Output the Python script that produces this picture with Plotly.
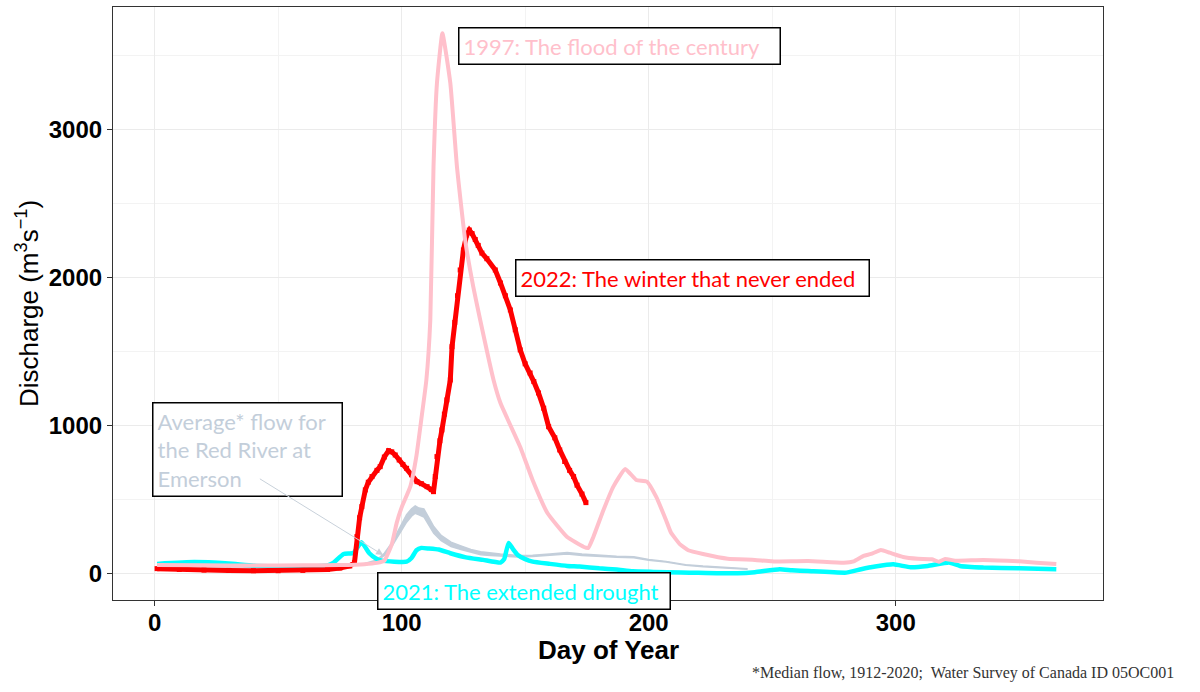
import plotly.graph_objects as go

# Red River at Emerson, daily discharge (m3/s)
pink_day = [1, 20, 40, 60, 75, 85, 90, 93, 96, 98, 100, 103.5, 106, 108, 110, 111.6, 112.9, 114.3,
            116.5, 119.7, 122.4, 125.7, 129, 131.8, 137.2, 140, 148, 153, 159, 167, 173.6, 175.5,
            177.6, 181.7, 185.7, 190.5, 195, 199.3, 203, 207, 209, 212.7, 216, 222, 232, 243, 250,
            264.5, 279, 283, 287, 290, 294, 297.5, 303, 309, 314.6, 317.5, 320, 324, 335.5, 350,
            357, 365]
pink_q = [60, 58, 57, 58, 60, 66, 75, 90, 200, 345, 450, 590, 800, 1050, 1310, 1716, 2752, 3318,
          3653, 3317, 2750, 2257, 1940, 1716, 1311, 1155, 858, 635, 412, 250, 184, 175,
          250, 432, 590, 709, 635, 624, 522, 365, 280, 200, 160, 135, 103, 95, 85,
          88, 76, 85, 122, 135, 162, 144, 115, 103, 99, 83, 101, 90, 95, 85,
          76, 68]

red_day = [1, 10, 20, 30, 40, 50, 60, 70, 75, 79, 80.9, 81.9, 83, 83.9, 85.3, 86.5, 88, 90, 91.3,
           93, 94.7, 96, 97.4, 99, 100.5, 102, 104, 106.2, 108, 110.3, 112, 112.9, 113.6, 114.3,
           115.5, 116.3, 117.3, 118.3, 119.7, 120.4, 121.5, 122.6, 123.7, 125, 126.3, 127.4, 128.5,
           129.8, 131, 132.5, 134.5, 137.9, 140, 142, 144, 146, 148, 150, 152, 153.5, 155.4,
           157.5, 159.5, 162, 164, 166, 168, 169.6, 171, 173, 174.6]
red_q = [36, 30, 26, 24, 22, 22, 24, 30, 40, 54, 77, 252, 380, 455, 568, 620, 658, 700, 725,
         790, 833, 825, 804, 770, 740, 714, 670, 624, 610, 590, 570, 556, 658, 793,
         900, 973, 1080, 1176, 1311, 1536, 1700, 1880, 2054, 2189, 2290, 2324, 2300,
         2260, 2220, 2168, 2130, 2054, 1966, 1880, 1784, 1650, 1514, 1420, 1358, 1300, 1223,
         1120, 995, 920, 838, 760, 700, 658, 600, 540, 482]

cyan_day = [1, 16, 30, 40, 55, 63, 70, 72.5, 76.5, 80.5, 83.7, 86.9, 89.6, 92, 97, 102, 104, 106,
            108, 111, 115, 119.7, 126, 133, 140, 141.5, 143.3, 145, 147, 150, 153, 160, 167, 172,
            180, 187, 193.5, 202, 213, 220, 236, 243, 253, 258, 264.5, 280, 286, 291.7, 299, 306,
            313, 321.6, 326, 335.5, 350, 365]
cyan_q = [68, 80, 70, 56, 50, 50, 58, 77, 135, 142, 215, 140, 105, 90, 83, 83, 108, 160,
          176, 172, 165, 140, 112, 95, 77, 100, 210, 170, 128, 100, 83, 68, 54, 50,
          38, 30, 18, 14, 9, 8, 5, 12, 32, 25, 20, 9, 32, 50, 65, 45,
          54, 77, 54, 43, 38, 32]

avg_day = [1, 40, 70, 85, 90, 93, 96, 98, 100, 102, 104, 105.5, 107, 109, 111, 113, 116, 120, 124,
           128, 132, 136, 140, 147, 153, 160, 167, 173, 180, 187, 194, 200, 207, 215, 222, 229, 240]
avg_hi = [52, 48, 50, 70, 95, 140, 210, 275, 340, 400, 440, 460, 445, 440, 380, 320, 260, 215, 190,
          165, 150, 140, 135, 125, 127, 135, 145, 135, 125, 120, 117, 98, 85, 63, 53, 46, 35]
avg_lo = [48, 44, 46, 65, 88, 125, 185, 240, 300, 350, 390, 410, 400, 385, 330, 275, 225, 185, 165,
          145, 130, 125, 122, 115, 118, 126, 135, 125, 117, 113, 110, 92, 80, 58, 49, 42, 32]

PINK = "#FFC0CB"
RED = "#FF0000"
CYAN = "#00FFFF"
AVG = "#C3CEDA"
BOX_FONT = "Lato, Carlito, Calibri, sans-serif"
AX_FONT = "Liberation Sans, Arial, sans-serif"

fig = go.Figure()

# median flow band
fig.add_trace(go.Scatter(x=avg_day, y=avg_lo, mode="lines", line=dict(color=AVG, width=1.5),
                         showlegend=False, hoverinfo="skip"))
fig.add_trace(go.Scatter(x=avg_day, y=avg_hi, mode="lines", line=dict(color=AVG, width=1.5),
                         fill="tonexty", fillcolor=AVG, showlegend=False))
fig.add_trace(go.Scatter(x=cyan_day, y=cyan_q, mode="lines",
                         line=dict(color=CYAN, width=4.5, shape="spline", smoothing=0.4),
                         name="2021", showlegend=False))
fig.add_trace(go.Scatter(x=red_day, y=red_q, mode="lines+markers", line=dict(color=RED, width=5),
                         marker=dict(color=RED, size=5, symbol="square"),
                         name="2022", showlegend=False))
fig.add_trace(go.Scatter(x=pink_day, y=pink_q, mode="lines",
                         line=dict(color=PINK, width=4, shape="spline", smoothing=0.4),
                         name="1997", showlegend=False))


def box(text, x, y, color, w):
    fig.add_annotation(x=x, y=y, xref="x", yref="y", text=text, showarrow=False,
                       xanchor="left", yanchor="middle", align="left", width=w,
                       font=dict(family=BOX_FONT, size=22, color=color),
                       bgcolor="white", bordercolor="black", borderwidth=1.5, borderpad=4)


box("1997: The flood of the century", 123, 3568, PINK, 312)
box("2022: The winter that never ended", 146, 1997, RED, 344)
box("2021: The extended drought", 90, -115, CYAN, 283)
box("Average* flow for<br>the Red River at<br>Emerson", -0.9, 838, AVG, 180)

# pointer from the "Average" label to the median line
fig.add_annotation(x=92.5, y=128, ax=42, ay=649, xref="x", yref="y", axref="x", ayref="y",
                   text="", showarrow=True, arrowhead=2, arrowsize=1.4, arrowwidth=1,
                   arrowcolor="#C8D1DA")

fig.add_annotation(xref="paper", yref="paper", x=0.5, y=-0.085, xanchor="center", yanchor="middle",
                   text="<b>Day of Year</b>", showarrow=False,
                   font=dict(family=AX_FONT, size=26, color="black"))

fig.add_annotation(xref="paper", yref="paper", x=1.0737, y=-0.123, xanchor="right", yanchor="middle",
                   text="*Median flow, 1912-2020;  Water Survey of Canada ID 05OC001", showarrow=False,
                   font=dict(family="Liberation Serif, Times New Roman, serif", size=16, color="#333333"))

axis_common = dict(showline=True, mirror=True, linecolor="#333333", linewidth=1.2,
                   showgrid=True, gridcolor="#EBEBEB", gridwidth=1,
                   ticks="outside", ticklen=5, tickwidth=1, tickcolor="#333333",
                   zeroline=False,
                   tickfont=dict(family=AX_FONT, size=24, color="black", weight="bold"))

fig.update_layout(
    width=1200, height=692,
    margin=dict(l=113, r=97, t=7, b=92),
    plot_bgcolor="white", paper_bgcolor="white",
    xaxis=dict(range=[-16.84, 383.9], tickvals=[0, 100, 200, 300], ticklabelstandoff=-4,
               minor=dict(dtick=50, tick0=0, showgrid=True, gridcolor="#F3F3F3", gridwidth=0.7),
               **axis_common),
    yaxis=dict(range=[-176, 3831], tickvals=[0, 1000, 2000, 3000],
               minor=dict(dtick=500, tick0=0, showgrid=True, gridcolor="#F3F3F3", gridwidth=0.7),
               title=dict(text="Discharge (m<sup>3</sup>s<sup>\u22121</sup>)", standoff=2,
                          font=dict(family=AX_FONT, size=26, color="black")),
               **axis_common),
)

fig.write_html("out.html", config={"displayModeBar": False},
               post_script="document.body.style.margin='0';")
